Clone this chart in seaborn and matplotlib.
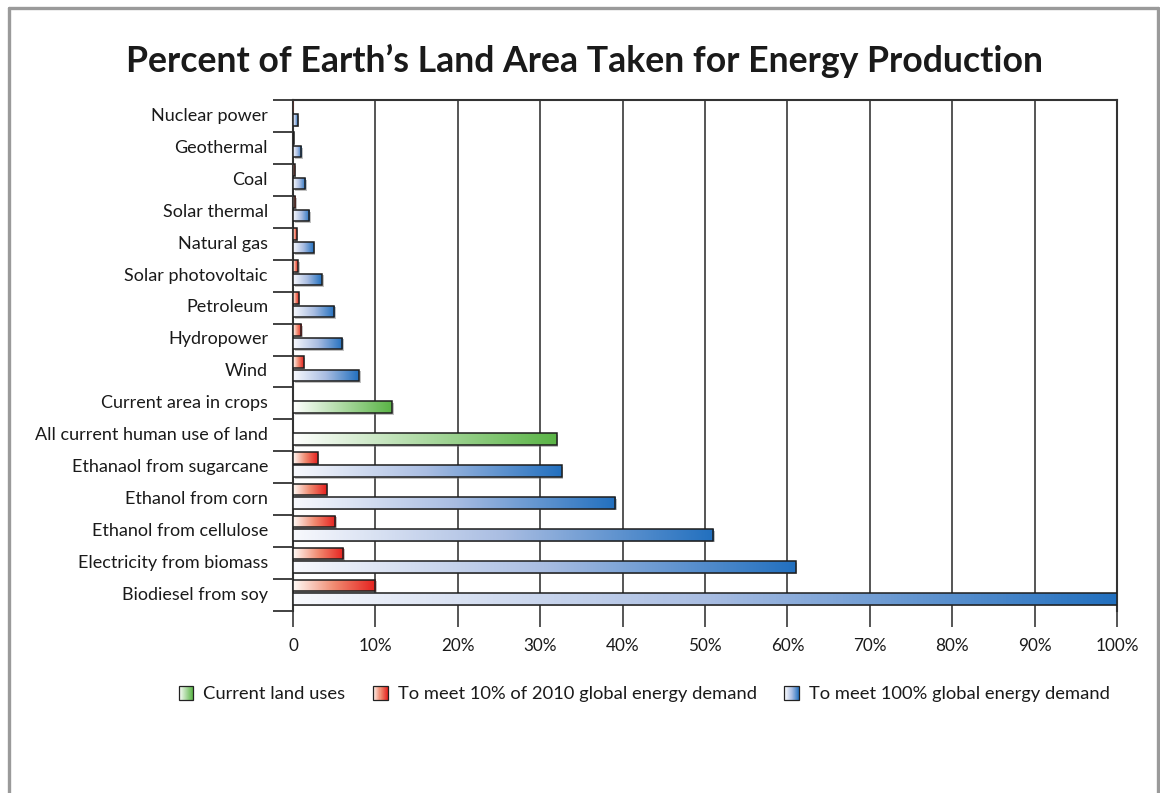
import numpy as np
import pandas as pd
import matplotlib
matplotlib.use("Agg")
import matplotlib.pyplot as plt
import seaborn as sns
from matplotlib.colors import LinearSegmentedColormap
from matplotlib.patches import Rectangle, Patch
from matplotlib.lines import Line2D
from matplotlib.legend_handler import HandlerBase
import matplotlib.patheffects as pe

# ---- data -------------------------------------------------------------
categories = [
    "Nuclear power", "Geothermal", "Coal", "Solar thermal", "Natural gas",
    "Solar photovoltaic", "Petroleum", "Hydropower", "Wind",
    "Current area in crops", "All current human use of land",
    "Ethanaol from sugarcane", "Ethanol from corn", "Ethanol from cellulose",
    "Electricity from biomass", "Biodiesel from soy",
]

current_cats = ["Current area in crops", "All current human use of land"]
current_vals = [12.0, 32.0]

energy_cats = [
    "Nuclear power", "Geothermal", "Coal", "Solar thermal", "Natural gas",
    "Solar photovoltaic", "Petroleum", "Hydropower", "Wind",
    "Ethanaol from sugarcane", "Ethanol from corn", "Ethanol from cellulose",
    "Electricity from biomass", "Biodiesel from soy",
]
ten_pct_vals = [0.05, 0.1, 0.2, 0.3, 0.45, 0.6, 0.7, 1.0, 1.3,
                3.0, 4.1, 5.1, 6.1, 10.0]
full_vals = [0.55, 1.0, 1.5, 2.0, 2.5, 3.5, 5.0, 6.0, 8.0,
             32.6, 39.1, 51.0, 61.0, 100.0]

xticks = list(range(0, 101, 10))
xtick_labels = ["0"] + [f"{v}%" for v in xticks[1:]]

legend_labels = ["Current land uses",
                 "To meet 10% of 2010 global energy demand",
                 "To meet 100% global energy demand"]

# ---- style ------------------------------------------------------------
sns.set_theme(style="white")
plt.rcParams["font.family"] = ["Lato", "DejaVu Sans"]

green_cmap = LinearSegmentedColormap.from_list("g", ["#ffffff", "#5ab446"])
red_cmap = LinearSegmentedColormap.from_list("r", ["#fffaf6", "#f08a70", "#e6201e"])
blue_cmap = LinearSegmentedColormap.from_list("b", ["#f8f9fd", "#a9bde2", "#2270bf"])

slot = {c: i for i, c in enumerate(categories)}
upper_off, upper_h = 0.2, 0.365
lower_off, lower_h = 0.62, 0.36

fig = plt.figure(figsize=(11.6, 7.93), dpi=100)
ax = fig.add_axes([293 / 1160, 1 - 611 / 793, (1117 - 293) / 1160, (611 - 100) / 793])

df_red = pd.DataFrame({"value": ten_pct_vals,
                       "pos": [slot[c] + upper_off for c in energy_cats]})
df_blue = pd.DataFrame({"value": full_vals,
                        "pos": [slot[c] + lower_off for c in energy_cats]})
df_green = pd.DataFrame({"value": current_vals,
                         "pos": [slot[c] + lower_off for c in current_cats]})

series = [(df_red, upper_h, red_cmap), (df_blue, lower_h, blue_cmap),
          (df_green, lower_h, green_cmap)]

bar_groups = []
for df, h, cmap in series:
    n0 = len(ax.patches)
    sns.barplot(data=df, x="value", y="pos", orient="y", native_scale=True,
                width=h, color=cmap(1.0), errorbar=None, ax=ax)
    bar_groups.append((ax.patches[n0:], cmap))

# gradient fill, dark outline and a soft shadow for every bar
grad = np.linspace(0, 1, 256).reshape(1, -1)
for patches, cmap in bar_groups:
    for p in patches:
        x0, y0 = p.get_x(), p.get_y()
        w, h = p.get_width(), p.get_height()
        p.set_facecolor(cmap(1.0))
        p.set_edgecolor("none")
        p.set_zorder(2)
        p.set_path_effects([pe.SimplePatchShadow(offset=(1.2, -1.2),
                                                 shadow_rgbFace="#777777",
                                                 alpha=0.45), pe.Normal()])
        im = ax.imshow(grad, extent=(x0, x0 + w, y0, y0 + h), aspect="auto",
                       cmap=cmap, origin="lower", zorder=3,
                       interpolation="bilinear")
        im.set_clip_path(p)
        ax.add_patch(Rectangle((x0, y0), w, h, facecolor="none",
                               edgecolor="#1e1e1e", linewidth=1.1, zorder=4))

# ---- axes -------------------------------------------------------------
ax.set_xlim(0, 100)
ax.set_ylim(16, 0)
ax.set_xlabel("")
ax.set_ylabel("")

ax.set_xticks(xticks)
ax.set_xticklabels(xtick_labels, fontsize=12.3)
ax.set_yticks([i + 0.45 for i in range(len(categories))])
ax.set_yticklabels(categories, fontsize=13, color="#1a1a1a")
ax.set_yticks(range(len(categories) + 1), minor=True)

ax.tick_params(axis="y", which="major", length=0, pad=18)
ax.tick_params(axis="y", which="minor", left=True, length=14.4, width=1.3,
               color="#333333", direction="out")
ax.tick_params(axis="x", which="major", bottom=True, length=11.5, width=1.4,
               color="#555555", direction="out", pad=8, labelcolor="#1a1a1a")

ax.grid(axis="x", color="#555555", linewidth=1.4)
ax.grid(axis="y", visible=False)
ax.set_axisbelow(True)

for side in ["left", "top", "right"]:
    ax.spines[side].set_visible(True)
    ax.spines[side].set_color("#333333")
    ax.spines[side].set_linewidth(1.5)
ax.spines["bottom"].set_visible(False)
ax.get_xticklines()[0].set_color("#333333")

# ---- title ------------------------------------------------------------
fig.text(584 / 1160, 1 - 61 / 793,
         "Percent of Earth\u2019s Land Area Taken for Energy Production",
         ha="center", va="center", fontsize=25.7, fontweight="bold",
         color="#1a1a1a")

# ---- legend with gradient swatches -----------------------------------
class GradientHandler(HandlerBase):
    def __init__(self, cmap, steps=14):
        super().__init__()
        self.cmap = cmap
        self.steps = steps

    def create_artists(self, legend, orig_handle, xdescent, ydescent,
                       width, height, fontsize, trans):
        size = min(width, height)
        x0 = -xdescent + (width - size) / 2
        y0 = -ydescent + (height - size) / 2
        arts = []
        for k in range(self.steps):
            arts.append(Rectangle((x0 + k * size / self.steps, y0),
                                  size / self.steps, size,
                                  facecolor=self.cmap((k + 0.5) / self.steps),
                                  edgecolor="none", transform=trans))
        arts.append(Rectangle((x0, y0), size, size, facecolor="none",
                              edgecolor="#222222", linewidth=0.9,
                              transform=trans))
        return arts

handles = [Patch(label=lbl) for lbl in legend_labels]
hmap = {h: GradientHandler(c) for h, c in zip(handles,
                                             [green_cmap, red_cmap, blue_cmap])}
fig.legend(handles=handles, labels=legend_labels, handler_map=hmap,
           loc="center", bbox_to_anchor=(644 / 1160, 1 - 694 / 793),
           ncol=3, frameon=False, fontsize=13.2, handlelength=0.85,
           handleheight=0.85, handletextpad=0.5, columnspacing=1.5,
           labelcolor="#1a1a1a")

# ---- outer frame ------------------------------------------------------
frame_kw = dict(color="#9a9a9a", linewidth=2.4, transform=fig.transFigure)
fl, fr, ft = 8.5 / 1160, 1157.5 / 1160, 1 - 7.5 / 793
fig.add_artist(Line2D([fl, fl], [0, ft], **frame_kw))
fig.add_artist(Line2D([fl, fr], [ft, ft], **frame_kw))
fig.add_artist(Line2D([fr, fr], [ft, 0], **frame_kw))

fig.savefig("out.png", dpi=100, facecolor="white")
